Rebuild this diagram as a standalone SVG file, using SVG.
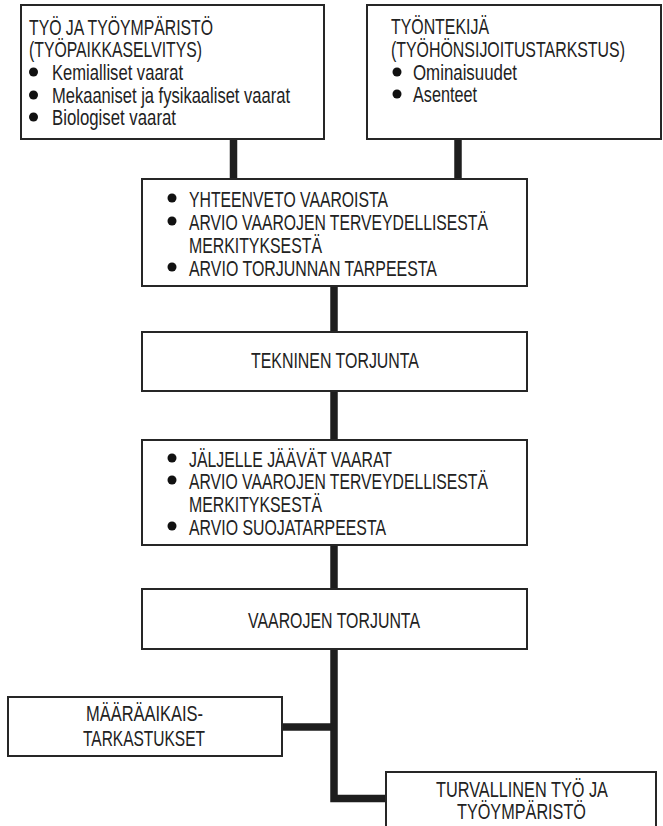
<svg xmlns="http://www.w3.org/2000/svg" width="663" height="826" viewBox="0 0 663 826">
<style>
.box{fill:#fff;stroke:#262626;stroke-width:2}
.t{font-family:"Liberation Sans",Arial,sans-serif;font-size:22px;fill:#222}
.c{fill:none;stroke:#1e1e1e;stroke-width:7.5}
.b{fill:#111}
</style>
<rect width="663" height="826" fill="#fff"/>
<g id="connectors">
<line class="c" x1="233.5" y1="139" x2="233.5" y2="179"/>
<line class="c" x1="458" y1="139" x2="458" y2="179"/>
<line class="c" x1="334" y1="286" x2="334" y2="332"/>
<line class="c" x1="334" y1="391" x2="334" y2="440"/>
<line class="c" x1="334" y1="545" x2="334" y2="589"/>
<polyline class="c" points="334,649 334,798.5 386,798.5"/>
<line class="c" x1="282" y1="727" x2="334" y2="727"/>
</g>
<g id="n1">
<rect class="box" x="21" y="5" width="303" height="134"/>
<text class="t" transform="scale(0.7,1)" x="41.43" y="35" textLength="262.86" lengthAdjust="spacingAndGlyphs">TYÖ JA TYÖYMPÄRISTÖ</text>
<text class="t" transform="scale(0.7,1)" x="41.43" y="57" textLength="247.14" lengthAdjust="spacingAndGlyphs">(TYÖPAIKKASELVITYS)</text>
<circle class="b" cx="33.5" cy="72" r="4.5"/>
<text class="t" transform="scale(0.7,1)" x="74.29" y="80" textLength="187.14" lengthAdjust="spacingAndGlyphs">Kemialliset vaarat</text>
<circle class="b" cx="33.5" cy="95" r="4.5"/>
<text class="t" transform="scale(0.7,1)" x="74.29" y="103" textLength="340" lengthAdjust="spacingAndGlyphs">Mekaaniset ja fysikaaliset vaarat</text>
<circle class="b" cx="33.5" cy="117" r="4.5"/>
<text class="t" transform="scale(0.7,1)" x="74.29" y="125" textLength="177.14" lengthAdjust="spacingAndGlyphs">Biologiset vaarat</text>
</g>
<g id="n2">
<rect class="box" x="367" y="5" width="294" height="134"/>
<text class="t" transform="scale(0.7,1)" x="558.57" y="34" textLength="140" lengthAdjust="spacingAndGlyphs">TYÖNTEKIJÄ</text>
<text class="t" transform="scale(0.7,1)" x="558.57" y="57" textLength="334.29" lengthAdjust="spacingAndGlyphs">(TYÖHÖNSIJOITUSTARKSTUS)</text>
<circle class="b" cx="397" cy="72" r="4.5"/>
<text class="t" transform="scale(0.7,1)" x="590" y="80" textLength="148.57" lengthAdjust="spacingAndGlyphs">Ominaisuudet</text>
<circle class="b" cx="397" cy="94" r="4.5"/>
<text class="t" transform="scale(0.7,1)" x="590" y="102" textLength="91.43" lengthAdjust="spacingAndGlyphs">Asenteet</text>
</g>
<g id="n3">
<rect class="box" x="142" y="179" width="385" height="107"/>
<circle class="b" cx="172" cy="198" r="4.5"/>
<text class="t" transform="scale(0.7,1)" x="270" y="207" textLength="284.29" lengthAdjust="spacingAndGlyphs">YHTEENVETO VAAROISTA</text>
<circle class="b" cx="172" cy="221" r="4.5"/>
<text class="t" transform="scale(0.7,1)" x="270" y="230" textLength="427.14" lengthAdjust="spacingAndGlyphs">ARVIO VAAROJEN TERVEYDELLISESTÄ</text>
<text class="t" transform="scale(0.7,1)" x="270" y="253" textLength="190" lengthAdjust="spacingAndGlyphs">MERKITYKSESTÄ</text>
<circle class="b" cx="172" cy="267" r="4.5"/>
<text class="t" transform="scale(0.7,1)" x="270" y="276" textLength="354.29" lengthAdjust="spacingAndGlyphs">ARVIO TORJUNNAN TARPEESTA</text>
</g>
<g id="n4">
<rect class="box" x="142" y="332" width="385" height="59"/>
<text class="t" transform="scale(0.7,1)" x="358.57" y="368" textLength="240" lengthAdjust="spacingAndGlyphs">TEKNINEN TORJUNTA</text>
</g>
<g id="n5">
<rect class="box" x="142" y="440" width="385" height="105"/>
<circle class="b" cx="172" cy="458" r="4.5"/>
<text class="t" transform="scale(0.7,1)" x="270" y="467" textLength="290" lengthAdjust="spacingAndGlyphs">JÄLJELLE JÄÄVÄT VAARAT</text>
<circle class="b" cx="172" cy="480" r="4.5"/>
<text class="t" transform="scale(0.7,1)" x="270" y="489" textLength="427.14" lengthAdjust="spacingAndGlyphs">ARVIO VAAROJEN TERVEYDELLISESTÄ</text>
<text class="t" transform="scale(0.7,1)" x="270" y="512" textLength="190" lengthAdjust="spacingAndGlyphs">MERKITYKSESTÄ</text>
<circle class="b" cx="172" cy="526" r="4.5"/>
<text class="t" transform="scale(0.7,1)" x="270" y="535" textLength="281.43" lengthAdjust="spacingAndGlyphs">ARVIO SUOJATARPEESTA</text>
</g>
<g id="n6">
<rect class="box" x="142" y="589" width="385" height="60"/>
<text class="t" transform="scale(0.7,1)" x="354.29" y="628" textLength="245.71" lengthAdjust="spacingAndGlyphs">VAAROJEN TORJUNTA</text>
</g>
<g id="n7">
<rect class="box" x="8" y="697" width="274" height="59"/>
<text class="t" transform="scale(0.7,1)" x="122.86" y="721" textLength="167.14" lengthAdjust="spacingAndGlyphs">MÄÄRÄAIKAIS-</text>
<text class="t" transform="scale(0.7,1)" x="118.57" y="746" textLength="174.29" lengthAdjust="spacingAndGlyphs">TARKASTUKSET</text>
</g>
<g id="n8">
<rect class="box" x="386" y="772" width="270" height="70"/>
<text class="t" transform="scale(0.7,1)" x="622.86" y="797" textLength="245.71" lengthAdjust="spacingAndGlyphs">TURVALLINEN TYÖ JA</text>
<text class="t" transform="scale(0.7,1)" x="652.86" y="819" textLength="184.29" lengthAdjust="spacingAndGlyphs">TYÖYMPÄRISTÖ</text>
</g>
</svg>
